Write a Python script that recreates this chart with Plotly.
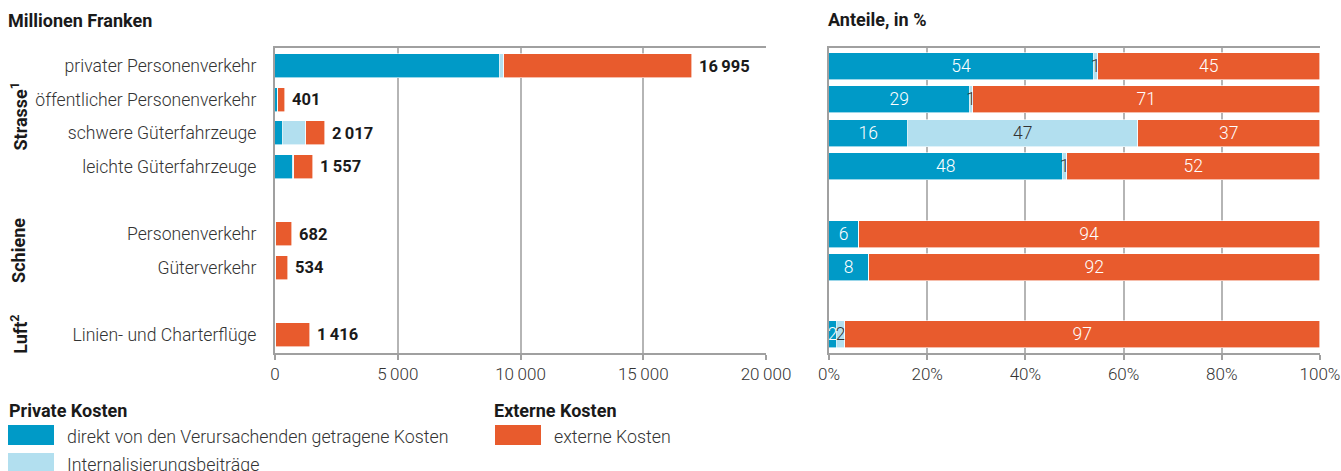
import plotly.graph_objects as go

# ---------------- data ----------------
groups = ["Strasse<sup>1</sup>", "Schiene", "Luft<sup>2</sup>"]
categories = [
    "privater Personenverkehr", "öffentlicher Personenverkehr",
    "schwere Güterfahrzeuge", "leichte Güterfahrzeuge",
    None,
    "Personenverkehr", "Güterverkehr",
    None,
    "Linien- und Charterflüge",
]
group_of = [0, 0, 0, 0, None, 1, 1, None, 2]

# million CHF (None = spacer row)
direkt = [9177, 115, 323, 743, None, 41, 43, None, 23]
intern = [150, 3, 948, 11, None, 0, 0, None, 23]
extern = [7668, 283, 746, 803, None, 641, 491, None, 1370]

x_ticks = [0, 5000, 10000, 15000, 20000]
pct_ticks = [0, 20, 40, 60, 80, 100]

series_names = ["direkt von den Verursachenden getragene Kosten",
                "Internalisierungsbeiträge", "externe Kosten"]
colors = ["#009AC7", "#B2DFEF", "#E85B2D"]
text_colors = ["white", "#333333", "white"]

# ---------------- layout helpers ----------------
W, H = 1341, 471
def px(x): return x / W
def py(y): return 1 - y / H

FONT = "Roboto"
rows = [i for i, c in enumerate(categories) if c is not None]
yvals = rows
ytext = [categories[i] for i in rows]
series = [direkt, intern, extern]
totals = [sum(s[i] for s in series) for i in rows]

fig = go.Figure()

for k, s in enumerate(series):
    vals = [s[i] for i in rows]
    fig.add_trace(go.Bar(
        x=vals, y=yvals, orientation="h", name=series_names[k],
        marker=dict(color=colors[k], line=dict(color="white", width=0.6)),
        width=0.71, xaxis="x", yaxis="y", showlegend=False,
        hoverinfo="x+y",
    ))
    pct = [v / t * 100 for v, t in zip(vals, totals)]
    fig.add_trace(go.Bar(
        x=pct, y=yvals, orientation="h", name=series_names[k],
        marker=dict(color=colors[k], line=dict(color="white", width=0.6)),
        width=0.8, xaxis="x2", yaxis="y2", showlegend=False,
        text=[f"{round(p)}" if p > 0 else "" for p in pct],
        textposition="inside", insidetextanchor="middle", textangle=0,
        textfont=dict(family=FONT, size=17.5, color=text_colors[k], weight=300),
        hoverinfo="x+y",
    ))

def fmt(v):
    return f"{v:,}".replace(",", "\u2009")

annotations = []
for r, t in zip(rows, totals):
    annotations.append(dict(
        x=t, y=r, xref="x", yref="y", text=f"<b>{fmt(t)}</b>",
        showarrow=False, xanchor="left", yanchor="middle", xshift=5,
        font=dict(family=FONT, size=16.5, color="#1a1a1a"),
    ))

# group labels
for g, name in enumerate(groups):
    idx = [i for i, gg in enumerate(group_of) if gg == g]
    ymid = (min(idx) + max(idx)) / 2
    annotations.append(dict(
        x=px(19), y=ymid, xref="paper", yref="y", text=f"<b>{name}</b>",
        textangle=-90, showarrow=False, xanchor="center", yanchor="middle",
        font=dict(family=FONT, size=18, color="#1a1a1a"),
    ))

# titles
annotations.append(dict(x=px(6), y=py(21), xref="paper", yref="paper",
                        text="<b>Millionen Franken</b>", showarrow=False,
                        xanchor="left", yanchor="middle",
                        font=dict(family=FONT, size=18, color="#1a1a1a")))
annotations.append(dict(x=px(826), y=py(20), xref="paper", yref="paper",
                        text="<b>Anteile, in %</b>", showarrow=False,
                        xanchor="left", yanchor="middle",
                        font=dict(family=FONT, size=18, color="#1a1a1a")))

# legend
shapes = []
legend_items = [
    (8, 425, series_names[0], colors[0]),
    (8, 453, series_names[1], colors[1]),
    (495, 425, series_names[2], colors[2]),
]
for x0, y0, label, col in legend_items:
    shapes.append(dict(type="rect", xref="paper", yref="paper",
                       x0=px(x0), x1=px(x0 + 46), y0=py(y0 + 20), y1=py(y0),
                       fillcolor=col, line=dict(width=0)))
    annotations.append(dict(x=px(x0 + 57), y=py(y0 + 11), xref="paper", yref="paper",
                            text=label, showarrow=False, xanchor="left", yanchor="middle",
                            font=dict(family=FONT, size=17.8, color="#333333", weight=300)))
for x0, label in [(7, "Private Kosten"), (492, "Externe Kosten")]:
    annotations.append(dict(x=px(x0), y=py(410), xref="paper", yref="paper",
                            text=f"<b>{label}</b>", showarrow=False,
                            xanchor="left", yanchor="middle",
                            font=dict(family=FONT, size=18, color="#1a1a1a")))

GRID = "#b5b5b5"
AX = "#a0a0a0"
yr = [len(categories) - 1 + 0.54, -0.54]
xaxis_common = dict(showgrid=True, gridcolor=GRID, gridwidth=1.5,
                    showline=True, linecolor=AX, linewidth=2, mirror=True,
                    ticks="outside", ticklen=5, tickcolor=AX, tickwidth=1.5,
                    zeroline=False, fixedrange=True, automargin=False,
                    tickfont=dict(family=FONT, size=17, color="#333333", weight=300))

fig.update_layout(
    width=W, height=H,
    margin=dict(l=0, r=0, t=0, b=0, autoexpand=False),
    paper_bgcolor="white", plot_bgcolor="white",
    barmode="stack", bargap=0,
    uniformtext=dict(minsize=17.5, mode="show"),
    showlegend=False,
    xaxis=dict(domain=[px(275), px(766)], range=[0, 20000],
               tickvals=x_ticks, ticktext=[fmt(v) for v in x_ticks],
               anchor="y", **xaxis_common),
    xaxis2=dict(domain=[px(829), px(1320)], range=[0, 100],
                tickvals=pct_ticks, ticktext=[f"{v}%" for v in pct_ticks],
                anchor="y2", **xaxis_common),
    yaxis=dict(domain=[py(353), py(48)], range=yr, anchor="x",
               tickvals=yvals, ticktext=ytext, ticks="",
               ticklabelstandoff=13, automargin=False,
               showgrid=False, showline=True, linecolor=AX, linewidth=2,
               zeroline=False,
               tickfont=dict(family=FONT, size=17.6, color="#333333", weight=300)),
    yaxis2=dict(domain=[py(353), py(48)], range=yr, anchor="x2",
                showticklabels=False, ticks="", automargin=False,
                showgrid=False, showline=True, linecolor=AX, linewidth=2,
                zeroline=False),
    annotations=annotations,
    shapes=shapes,
)

fig.write_html("out.html")
